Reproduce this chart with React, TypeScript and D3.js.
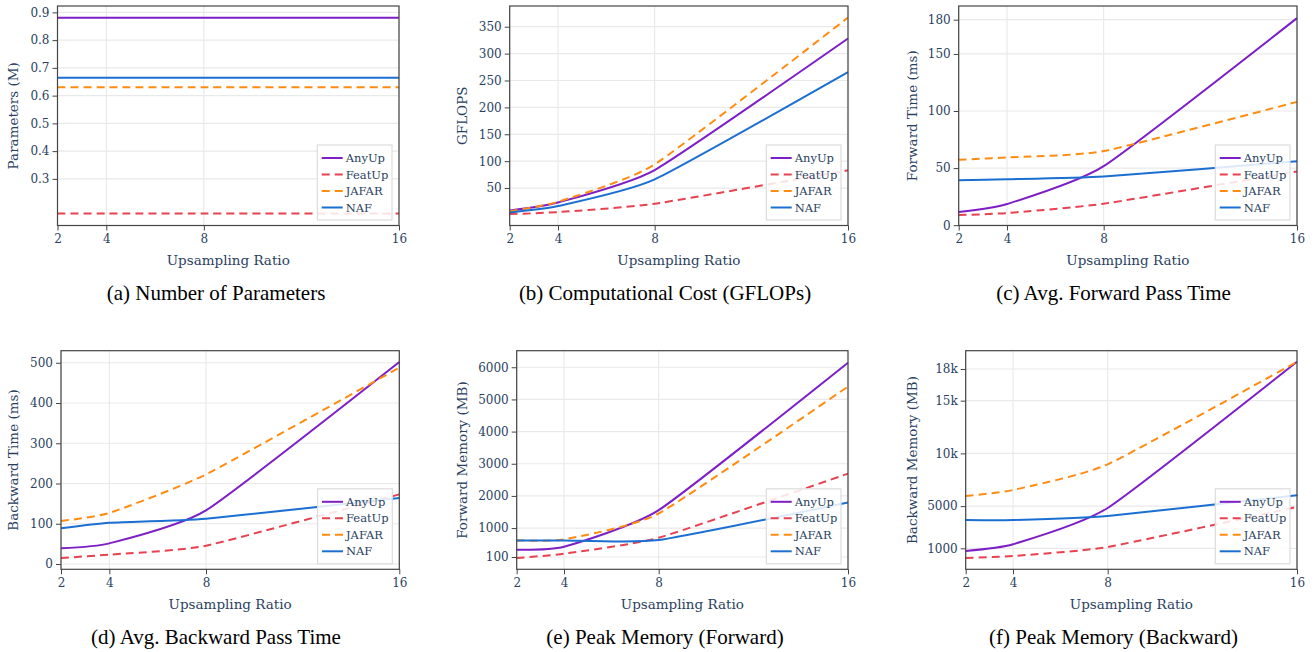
import * as d3 from "d3"
import { useEffect, useRef } from "react"

const W = 1315
const H = 652

const RATIOS = [2, 4, 8, 16]
const METHODS = ["AnyUp", "FeatUp", "JAFAR", "NAF"]
const COLORS = ["#7d1ec6", "#e8414f", "#ff8c12", "#1b6fd2"]
const DASHED = [false, true, true, false]

// values per method, in METHODS order, one entry per ratio
const PARAMS = [
  [0.881, 0.881, 0.881, 0.881],
  [0.175, 0.175, 0.175, 0.175],
  [0.63, 0.63, 0.63, 0.63],
  [0.664, 0.664, 0.664, 0.664],
]
const GFLOPS = [
  [8.4, 23.3, 83.5, 328],
  [1.6, 5.3, 20.8, 83],
  [7, 24.5, 94, 367],
  [4.7, 16.5, 66, 265.5],
]
const FWD_TIME = [
  [11.5, 18.5, 51.7, 181.4],
  [8.8, 10.6, 18.8, 47],
  [57.3, 59.3, 64.9, 108],
  [39.3, 40.2, 42.6, 56],
]
const BWD_TIME = [
  [38.9, 51.3, 133.3, 502],
  [14.9, 23.2, 45.5, 173],
  [106.8, 126.7, 222.7, 488],
  [88.6, 102.6, 112.6, 164],
]
const FWD_MEM = [
  [327, 420, 1557, 6143],
  [69, 203, 699, 2693],
  [617, 648, 1453, 5400],
  [617, 617, 627, 1794],
]
const BWD_MEM = [
  [747, 1379, 4823, 18690],
  [84, 273, 1126, 4918],
  [5960, 6529, 8962, 18690],
  [3686, 3686, 4065, 6024],
]

const PARAM_TICKS = [0.3, 0.4, 0.5, 0.6, 0.7, 0.8, 0.9]
const GFLOPS_TICKS = [50, 100, 150, 200, 250, 300, 350]
const FWD_TIME_TICKS = [0, 50, 100, 150, 180]
const BWD_TIME_TICKS = [0, 100, 200, 300, 400, 500]
const FWD_MEM_TICKS = [100, 1000, 2000, 3000, 4000, 5000, 6000]
const BWD_MEM_TICKS = [1000, 5000, 10000, 15000, 18000]
const BWD_MEM_LABELS = ["1000", "5000", "10k", "15k", "18k"]

const PANELS = [
  { values: PARAMS, ticks: PARAM_TICKS, labels: PARAM_TICKS.map((d) => d.toFixed(1)), domain: [0.132, 0.923], yTitle: "Parameters (M)", caption: "(a) Number of Parameters" },
  { values: GFLOPS, ticks: GFLOPS_TICKS, labels: GFLOPS_TICKS.map(String), domain: [-19.6, 388.5], yTitle: "GFLOPS", caption: "(b) Computational Cost (GFLOPs)" },
  { values: FWD_TIME, ticks: FWD_TIME_TICKS, labels: FWD_TIME_TICKS.map(String), domain: [-0.3, 192], yTitle: "Forward Time (ms)", caption: "(c) Avg. Forward Pass Time" },
  { values: BWD_TIME, ticks: BWD_TIME_TICKS, labels: BWD_TIME_TICKS.map(String), domain: [-13.2, 530], yTitle: "Backward Time (ms)", caption: "(d) Avg. Backward Pass Time" },
  { values: FWD_MEM, ticks: FWD_MEM_TICKS, labels: FWD_MEM_TICKS.map(String), domain: [-282, 6515], yTitle: "Forward Memory (MB)", caption: "(e) Peak Memory (Forward)" },
  { values: BWD_MEM, ticks: BWD_MEM_TICKS, labels: BWD_MEM_LABELS, domain: [-990, 19736], yTitle: "Backward Memory (MB)", caption: "(f) Peak Memory (Backward)" },
]

// plot frames [x0, x1, y0, y1]
const FRAMES = [
  [57.5, 399, 6, 225.5],
  [509.7, 848, 6, 225.5],
  [958.7, 1297, 6, 225.5],
  [61, 399.3, 350.7, 569.3],
  [516.7, 848, 350.7, 569.3],
  [965.7, 1297, 350.7, 569.3],
]
const Y_TITLE_X = [13.5, 462, 912]
const CAPTION_X = [216, 665, 1113.5]

const TEXT = "#2a3f5f"
const SERIF = "'DejaVu Serif', serif"

export default function App() {
  const svgRef = useRef<SVGSVGElement | null>(null)

  useEffect(() => {
    if (!svgRef.current) return
    const svg = d3.select(svgRef.current)
    svg.selectAll("*").remove()
    svg.append("rect").attr("width", W).attr("height", H).attr("fill", "#fff")

    PANELS.forEach((p, i) => {
      const [x0, x1, y0, y1] = FRAMES[i]
      const col = i % 3
      const g = svg.append("g")

      const x = d3.scaleLinear().domain([2, 16]).range([x0, x1])
      const y = d3.scaleLinear().domain(p.domain).range([y1, y0])

      // grid
      g.selectAll(".vg")
        .data(RATIOS)
        .enter()
        .append("line")
        .attr("x1", (d) => x(d))
        .attr("x2", (d) => x(d))
        .attr("y1", y0)
        .attr("y2", y1)
        .attr("stroke", "#e6e6e6")
        .attr("stroke-width", 1)
      g.selectAll(".hg")
        .data(p.ticks)
        .enter()
        .append("line")
        .attr("x1", x0)
        .attr("x2", x1)
        .attr("y1", (d) => y(d))
        .attr("y2", (d) => y(d))
        .attr("stroke", "#e9e9e9")
        .attr("stroke-width", 1.2)

      // lines, lightly smoothed
      const line = d3
        .line<number>()
        .x((_, j) => x(RATIOS[j]))
        .y((d) => y(d))
        .curve(d3.curveCardinal.tension(0.5))

      p.values.forEach((vals, m) => {
        g.append("path")
          .attr("d", line(vals))
          .attr("fill", "none")
          .attr("stroke", COLORS[m])
          .attr("stroke-width", 2)
          .attr("stroke-dasharray", DASHED[m] ? "8,5" : null)
      })

      // frame
      g.append("rect")
        .attr("x", x0)
        .attr("y", y0)
        .attr("width", x1 - x0)
        .attr("height", y1 - y0)
        .attr("fill", "none")
        .attr("stroke", "#444")
        .attr("stroke-width", 1.2)

      // y axis
      const yAxis = g
        .append("g")
        .attr("transform", `translate(${x0},0)`)
        .call(
          d3
            .axisLeft(y)
            .tickValues(p.ticks)
            .tickFormat((_, k) => p.labels[k])
            .tickSize(5)
            .tickPadding(3),
        )
      yAxis.select(".domain").remove()
      yAxis.selectAll("line").attr("stroke", "#444")
      yAxis.selectAll("text").attr("fill", TEXT).style("font-family", SERIF).style("font-size", "12px")

      // x axis
      const xAxis = g
        .append("g")
        .attr("transform", `translate(0,${y1})`)
        .call(d3.axisBottom(x).tickValues(RATIOS).tickFormat(d3.format("d")).tickSize(5).tickPadding(4))
      xAxis.select(".domain").remove()
      xAxis.selectAll("line").attr("stroke", "#444")
      xAxis.selectAll("text").attr("fill", TEXT).style("font-family", SERIF).style("font-size", "12px")

      // titles
      g.append("text")
        .attr("x", (x0 + x1) / 2)
        .attr("y", y1 + 35)
        .attr("dy", "0.35em")
        .attr("text-anchor", "middle")
        .attr("fill", TEXT)
        .style("font-family", SERIF)
        .style("font-size", "13.5px")
        .text("Upsampling Ratio")

      g.append("text")
        .attr("transform", `translate(${Y_TITLE_X[col]},${(y0 + y1) / 2}) rotate(-90)`)
        .attr("dy", "0.35em")
        .attr("text-anchor", "middle")
        .attr("fill", TEXT)
        .style("font-family", SERIF)
        .style("font-size", "13.5px")
        .text(p.yTitle)

      g.append("text")
        .attr("x", CAPTION_X[col])
        .attr("y", y1 + 67.5)
        .attr("dy", "0.35em")
        .attr("text-anchor", "middle")
        .attr("fill", "#000")
        .style("font-family", "'Liberation Serif', 'Times New Roman', serif")
        .style("font-size", "21px")
        .text(p.caption)

      // legend
      const lw = 74.7
      const lh = 75
      const lx = x1 - 7 - lw
      const ly = y1 - 5.5 - lh
      const leg = g.append("g").attr("transform", `translate(${lx},${ly})`)
      leg.append("rect")
        .attr("width", lw)
        .attr("height", lh)
        .attr("fill", "rgba(255,255,255,0.85)")
        .attr("stroke", "#dcdcdc")
        .attr("stroke-width", 1.2)
      METHODS.forEach((name, m) => {
        const ry = 13 + m * 16.5
        leg.append("line")
          .attr("x1", 4.4)
          .attr("x2", 25.4)
          .attr("y1", ry)
          .attr("y2", ry)
          .attr("stroke", COLORS[m])
          .attr("stroke-width", 2)
          .attr("stroke-dasharray", DASHED[m] ? "8,5" : null)
        leg.append("text")
          .attr("x", 28.4)
          .attr("y", ry)
          .attr("dy", "0.35em")
          .attr("fill", TEXT)
          .style("font-family", SERIF)
          .style("font-size", "11.5px")
          .text(name)
      })
    })
  }, [])

  return <svg ref={svgRef} width={W} height={H} style={{ position: "absolute", left: 0, top: 0 }} />
}
